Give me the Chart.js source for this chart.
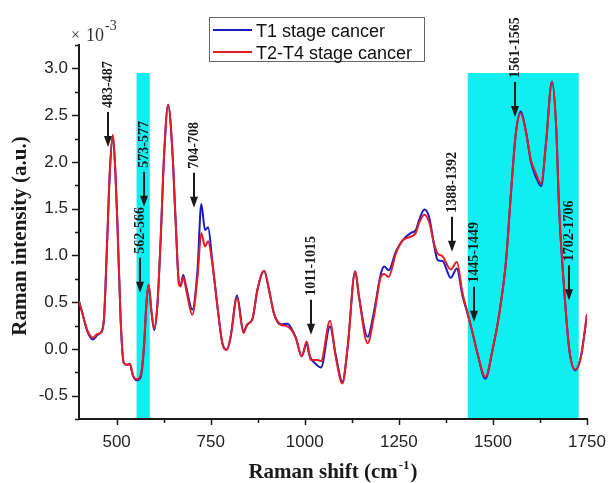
<!DOCTYPE html>
<html><head><meta charset="utf-8">
<script src="https://cdn.jsdelivr.net/npm/chart.js@4.4.0/dist/chart.umd.min.js"></script>
<style>html,body{margin:0;background:#fff}#wrap{width:609px;height:483px}</style>
</head><body><div id="wrap"><canvas id="c" width="609" height="483"></canvas></div>
<script>
'use strict';

/* ─── data (intensity ×10^-3) ─── */
var shift=[400,409,422,437,449,457,466,475,482,490,496,502,511,519,528,535,543,553,564,573,579,585,593,600,608,617,626,637,648,657,666,670,677,685,701,715,725,735,743,754,768,781,793,803,820,837,847,861,874,892,905,918,936,954,976,992,1005,1011,1016,1034,1043,1067,1082,1100,1114,1134,1144,1167,1184,1202,1211,1223,1242,1260,1282,1295,1304,1318,1331,1344,1353,1366,1388,1404,1419,1433,1446,1459,1480,1499,1517,1535,1548,1561,1574,1588,1601,1614,1628,1641,1657,1668,1676,1690,1703,1719,1734,1750];
var t1=[0.51,0.38,0.19,0.10,0.15,0.17,0.30,1.17,1.90,2.28,1.95,1.35,0.28,-0.15,-0.17,-0.16,-0.28,-0.335,-0.30,0.03,0.47,0.685,0.38,0.20,0.45,1.17,2.06,2.61,2.13,1.35,0.69,0.68,0.79,0.66,0.42,0.85,1.55,1.27,1.30,0.95,0.45,0.06,-0.01,0.13,0.57,0.19,0.26,0.32,0.63,0.835,0.63,0.38,0.26,0.27,0.12,-0.08,0.06,-0.05,-0.10,-0.18,-0.20,0.24,-0.06,-0.35,0.02,0.83,0.56,0.13,0.40,0.80,0.88,0.84,1.04,1.16,1.24,1.27,1.38,1.49,1.40,1.10,0.95,0.94,0.76,0.86,0.57,0.37,0.17,-0.05,-0.32,-0.01,0.38,0.95,1.67,2.31,2.54,2.32,2.00,1.84,1.74,2.20,2.86,2.38,1.49,0.60,-0.01,-0.23,-0.08,0.37];
var t2=[0.51,0.38,0.20,0.12,0.16,0.17,0.31,1.17,1.90,2.29,1.95,1.35,0.28,-0.15,-0.17,-0.16,-0.28,-0.325,-0.28,0.06,0.49,0.685,0.38,0.22,0.45,1.17,2.06,2.61,2.13,1.35,0.685,0.667,0.77,0.63,0.364,0.77,1.24,1.095,1.15,0.92,0.45,0.06,-0.01,0.13,0.545,0.17,0.26,0.32,0.63,0.835,0.63,0.38,0.26,0.24,0.12,-0.08,0.08,-0.03,-0.12,-0.12,-0.13,0.30,-0.08,-0.37,0.02,0.83,0.56,0.06,0.35,0.77,0.80,0.77,1.02,1.16,1.20,1.24,1.35,1.435,1.35,1.12,1.02,0.99,0.85,0.93,0.60,0.38,0.17,-0.05,-0.30,-0.01,0.38,0.95,1.67,2.31,2.52,2.31,2.02,1.88,1.77,2.20,2.86,2.38,1.49,0.60,-0.01,-0.22,-0.08,0.37];

var xTicks=[500,750,1000,1250,1500,1750];
var xMinor=[625,875,1125,1375,1625];
var yTicks=[-0.5,0,0.5,1,1.5,2,2.5,3];
var yMinor=[-0.75,-0.25,0.25,0.75,1.25,1.75,2.25,2.75,3.25];

/* shaded bands */
var bandFrom=[553,1433];
var bandTo=[588,1728];
var bandTop=2.95;

/* peak assignments */
var peakLabels=['483-487','562-566','573-577','704-708','1011-1015','1388-1392','1445-1449','1561-1565','1702-1706'];
var peakX=[476,562,574,705,1016,1390,1450,1559,1703];
var peakTip=[2.16,0.60,1.52,1.51,0.15,1.04,0.29,2.48,0.52];

var BLUE='#1a1ac8',RED='#e41e26',INK='#1a1a1a';
var SANS='"Liberation Sans", Arial, sans-serif',SERIF='"Liberation Serif", "Times New Roman", serif';

function pts(ys){return shift.map(function(x,i){return{x:x,y:ys[i]}})}
function noPad(s){s.paddingLeft=s.paddingRight=s.paddingTop=s.paddingBottom=0}

/* cyan bands behind everything */
var bands={id:'bands',beforeDraw:function(ch){
  var c=ch.ctx,xs=ch.scales.x,ys=ch.scales.y,a=ch.chartArea;
  c.save();c.fillStyle='#10eef0';
  bandFrom.forEach(function(f,i){var l=xs.getPixelForValue(f),r=xs.getPixelForValue(bandTo[i]),t=ys.getPixelForValue(bandTop);
    c.fillRect(l,t,r-l,a.bottom-t)});
  c.restore()}};

/* outward tick marks, major + minor */
var ticks={id:'ticks',afterDraw:function(ch){
  var c=ch.ctx,xs=ch.scales.x,ys=ch.scales.y,a=ch.chartArea;
  c.save();c.strokeStyle=INK;c.lineWidth=1.5;c.beginPath();
  xTicks.forEach(function(v){var p=Math.round(xs.getPixelForValue(v))+.5;c.moveTo(p,a.bottom);c.lineTo(p,a.bottom+6)});
  xMinor.forEach(function(v){var p=Math.round(xs.getPixelForValue(v))+.5;c.moveTo(p,a.bottom);c.lineTo(p,a.bottom+4)});
  yTicks.forEach(function(v){var p=Math.round(ys.getPixelForValue(v))+.5;c.moveTo(a.left,p);c.lineTo(a.left-7,p)});
  yMinor.forEach(function(v){var p=Math.round(ys.getPixelForValue(v))+.5;c.moveTo(a.left,p);c.lineTo(a.left-4,p)});
  c.stroke();c.restore()}};

/* arrows + rotated peak labels */
var peaks={id:'peaks',afterDatasetsDraw:function(ch){
  var c=ch.ctx,xs=ch.scales.x,ys=ch.scales.y;
  c.save();c.fillStyle=INK;c.strokeStyle=INK;c.lineWidth=2;
  peakLabels.forEach(function(lb,i){
    var px=Math.round(xs.getPixelForValue(peakX[i])),tip=ys.getPixelForValue(peakTip[i]);
    c.beginPath();c.moveTo(px,tip-35);c.lineTo(px,tip-9);c.stroke();
    c.beginPath();c.moveTo(px,tip);c.lineTo(px-4,tip-11);c.lineTo(px+4,tip-11);c.closePath();c.fill();
    c.save();c.translate(px,tip-39);c.rotate(-Math.PI/2);
    c.font='bold 14px '+SERIF;c.textAlign='left';c.textBaseline='middle';c.fillText(lb,0,0);c.restore()});
  c.restore()}};

/* titles, exponent and boxed legend */
var deco={id:'deco',afterDraw:function(ch){
  var c=ch.ctx;c.save();c.fillStyle=INK;
  /* y title */
  c.save();c.translate(21,236);c.rotate(-Math.PI/2);c.font='bold 21px '+SERIF;c.textAlign='center';c.textBaseline='middle';
  c.fillText('Raman intensity (a.u.)',0,0);c.restore();
  /* x title with superscript */
  c.textBaseline='alphabetic';c.textAlign='left';
  c.font='bold 21px '+SERIF;var a='Raman shift (cm',b=')',wa=c.measureText(a).width,wb=c.measureText(b).width;
  c.font='bold 13px '+SERIF;var ws=c.measureText('-1').width;
  var x0=333-(wa+ws+wb+2)/2;
  c.font='bold 21px '+SERIF;c.fillText(a,x0,478);
  c.font='bold 13px '+SERIF;c.fillText('-1',x0+wa+1,469);
  c.font='bold 21px '+SERIF;c.fillText(b,x0+wa+ws+2,478);
  /* exponent */
  c.fillStyle='#333';c.font='16px '+SERIF;c.fillText('\u00d7',71,40);
  c.font='18px '+SERIF;c.fillText('10',86,41);
  c.font='14px '+SERIF;c.fillText('-3',105,30);
  /* legend */
  c.fillStyle='#fff';c.fillRect(209.5,17.5,215,44);
  c.strokeStyle='#666';c.lineWidth=1;c.strokeRect(209.5,17.5,215,44);
  c.lineWidth=2;c.strokeStyle=BLUE;c.beginPath();c.moveTo(213,30);c.lineTo(252,30);c.stroke();
  c.strokeStyle=RED;c.beginPath();c.moveTo(213,52);c.lineTo(252,52);c.stroke();
  c.fillStyle='#111';c.font='18px '+SANS;
  c.fillText('T1 stage cancer',256,37);c.fillText('T2-T4 stage cancer',256,59);
  c.restore()}};

new Chart(document.getElementById('c'),{
  type:'line',
  data:{datasets:[
    {label:'T1 stage cancer',data:pts(t1),borderColor:BLUE,borderWidth:2,pointRadius:0,cubicInterpolationMode:'monotone',order:1},
    {label:'T2-T4 stage cancer',data:pts(t2),borderColor:RED,borderWidth:2,pointRadius:0,cubicInterpolationMode:'monotone',order:0}]},
  options:{responsive:false,animation:false,devicePixelRatio:1,
    layout:{padding:{top:45,right:22,left:0,bottom:0}},
    plugins:{legend:{display:false},tooltip:{enabled:false}},
    scales:{
      x:{type:'linear',min:400,max:1750,
        afterBuildTicks:function(s){s.ticks=xTicks.map(function(v){return{value:v}})},
        afterFit:function(s){s.height=64;noPad(s)},
        grid:{display:false,drawTicks:false},border:{color:INK,width:2},
        ticks:{color:'#222',padding:13,font:{family:SANS,size:17},maxRotation:0,callback:function(v){return String(v)}}},
      y:{min:-0.75,max:3.25,
        afterBuildTicks:function(s){s.ticks=yTicks.map(function(v){return{value:v}})},
        afterFit:function(s){s.width=79;noPad(s)},
        grid:{display:false,drawTicks:false},border:{color:INK,width:2},
        ticks:{color:'#222',padding:11,font:{family:SANS,size:17},callback:function(v){return v.toFixed(1)}}}}},
  plugins:[bands,ticks,peaks,deco]});
</script>
</body></html>
